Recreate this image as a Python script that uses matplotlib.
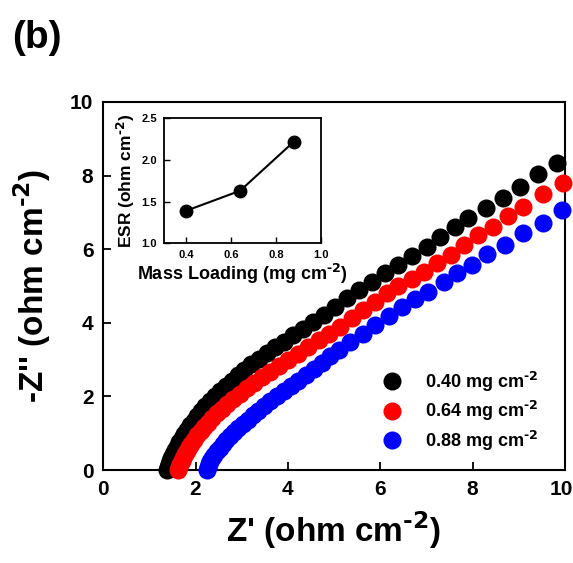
import matplotlib
matplotlib.use('Agg')
import numpy as np
import matplotlib.pyplot as plt
import matplotlib.transforms as mtransforms

plt.rcParams['font.family'] = ['Liberation Sans', 'DejaVu Sans']
plt.rcParams['font.weight'] = 'bold'
plt.rcParams['mathtext.default'] = 'regular'

# Nyquist data (Z', -Z'')
z_re_040 = [1.38, 1.40, 1.42, 1.45, 1.48, 1.52, 1.56, 1.60, 1.65, 1.70, 1.76, 1.82,
            1.89, 1.96, 2.04, 2.12, 2.21, 2.31, 2.42, 2.53, 2.65, 2.78, 2.92, 3.06,
            3.21, 3.37, 3.54, 3.72, 3.91, 4.11, 4.32, 4.54, 4.78, 5.02, 5.27, 5.53,
            5.82, 6.10, 6.39, 6.68, 7.01, 7.29, 7.62, 7.91, 8.29, 8.66, 9.03, 9.42, 9.82]
z_im_040 = [0.00, 0.08, 0.16, 0.25, 0.34, 0.44, 0.54, 0.64, 0.75, 0.86, 0.98, 1.10,
            1.22, 1.34, 1.47, 1.60, 1.73, 1.87, 2.01, 2.15, 2.29, 2.43, 2.58, 2.72,
            2.87, 3.02, 3.17, 3.33, 3.49, 3.66, 3.83, 4.01, 4.22, 4.44, 4.67, 4.89,
            5.12, 5.36, 5.57, 5.82, 6.07, 6.34, 6.60, 6.84, 7.13, 7.40, 7.70, 8.03, 8.33]

z_re_064 = [1.63, 1.65, 1.67, 1.70, 1.73, 1.77, 1.81, 1.86, 1.91, 1.97, 2.04, 2.11,
            2.19, 2.27, 2.36, 2.46, 2.57, 2.69, 2.82, 2.96, 3.11, 3.27, 3.44, 3.62,
            3.81, 4.01, 4.22, 4.44, 4.67, 4.90, 5.13, 5.38, 5.63, 5.89, 6.14, 6.39,
            6.68, 6.95, 7.22, 7.53, 7.82, 8.12, 8.45, 8.77, 9.10, 9.52, 9.96]
z_im_064 = [0.00, 0.08, 0.16, 0.25, 0.34, 0.43, 0.52, 0.62, 0.72, 0.83, 0.94, 1.05,
            1.17, 1.29, 1.41, 1.54, 1.67, 1.80, 1.94, 2.08, 2.22, 2.37, 2.52, 2.67,
            2.83, 2.99, 3.16, 3.34, 3.52, 3.70, 3.89, 4.12, 4.35, 4.57, 4.80, 4.99,
            5.18, 5.39, 5.63, 5.84, 6.11, 6.39, 6.61, 6.89, 7.14, 7.50, 7.79]

z_re_088 = [2.24, 2.26, 2.29, 2.32, 2.36, 2.41, 2.46, 2.52, 2.59, 2.66, 2.74, 2.83,
            2.92, 3.02, 3.13, 3.24, 3.36, 3.49, 3.62, 3.76, 3.91, 4.06, 4.22, 4.39,
            4.56, 4.74, 4.92, 5.10, 5.35, 5.63, 5.89, 6.18, 6.47, 6.75, 7.04, 7.37,
            7.66, 7.98, 8.32, 8.70, 9.10, 9.53, 9.93]
z_im_088 = [0.00, 0.08, 0.16, 0.24, 0.33, 0.42, 0.51, 0.61, 0.71, 0.81, 0.92, 1.03,
            1.14, 1.25, 1.37, 1.49, 1.61, 1.74, 1.87, 2.00, 2.14, 2.28, 2.43, 2.59,
            2.75, 2.92, 3.09, 3.27, 3.49, 3.71, 3.94, 4.18, 4.44, 4.66, 4.85, 5.12,
            5.36, 5.57, 5.87, 6.11, 6.43, 6.72, 7.07]

SUP = r'$^{\text{-2}}$'
labels = ['0.40 mg cm' + SUP, '0.64 mg cm' + SUP, '0.88 mg cm' + SUP]
colors = ['black', 'red', 'blue']

# inset: ESR vs mass loading
mass_loading = [0.40, 0.64, 0.88]
esr = [1.39, 1.63, 2.22]

fig = plt.figure(figsize=(5.73, 5.63), dpi=100)
ax = fig.add_axes([0.180, 0.165, 0.806, 0.654])

series = [(z_re_040, z_im_040), (z_re_064, z_im_064), (z_re_088, z_im_088)]
for (xs, ys), c, lab in zip(series, colors, labels):
    ax.plot(xs, ys, 'o', color=c, markersize=13, markeredgewidth=0,
            label=lab, clip_on=False, zorder=3)

ax.set_xlim(0, 10)
ax.set_ylim(0, 10)
ax.set_xticks([0, 2, 4, 6, 8, 10])
ax.set_yticks([0, 2, 4, 6, 8, 10])
ax.tick_params(direction='in', length=6, width=1.3, labelsize=15, pad=7)
for s in ax.spines.values():
    s.set_linewidth(1.5)
ax.set_xlabel("Z' (ohm cm" + SUP + ")", fontsize=24, fontweight='bold', labelpad=8)
ax.set_ylabel("-Z'' (ohm cm" + SUP + ")", fontsize=24, fontweight='bold', labelpad=12)

# nudge the last x tick label so it stays inside the figure
last = ax.get_xticklabels()[-1]
last.set_transform(last.get_transform() +
                   mtransforms.ScaledTranslation(-4 / 100, 0, fig.dpi_scale_trans))

leg = ax.legend(loc='lower right', bbox_to_anchor=(0.965, 0.018), frameon=False,
                fontsize=13, handletextpad=0.8, labelspacing=0.3,
                markerscale=1.0, borderaxespad=0.2)
for t in leg.get_texts():
    t.set_fontweight('bold')

fig.text(0.022, 0.932, '(b)', fontsize=28, fontweight='bold', ha='left', va='center')

ins = fig.add_axes([0.286, 0.568, 0.274, 0.222])
ins.plot(mass_loading, esr, '-o', color='black', markersize=9, linewidth=1.5)
ins.set_xlim(0.3, 1.0)
ins.set_ylim(1.0, 2.5)
ins.set_xticks([0.4, 0.6, 0.8, 1.0])
ins.set_yticks([1.0, 1.5, 2.0, 2.5])
ins.tick_params(direction='in', length=4, width=1.0, labelsize=8, pad=5)
for s in ins.spines.values():
    s.set_linewidth(1.3)
ins.set_xlabel('Mass Loading (mg cm' + SUP + ')', fontsize=13, fontweight='bold', labelpad=1)
ins.set_ylabel('ESR (ohm cm' + SUP + ')', fontsize=12.5, fontweight='bold', labelpad=3)

fig.savefig('out.png', dpi=100)
